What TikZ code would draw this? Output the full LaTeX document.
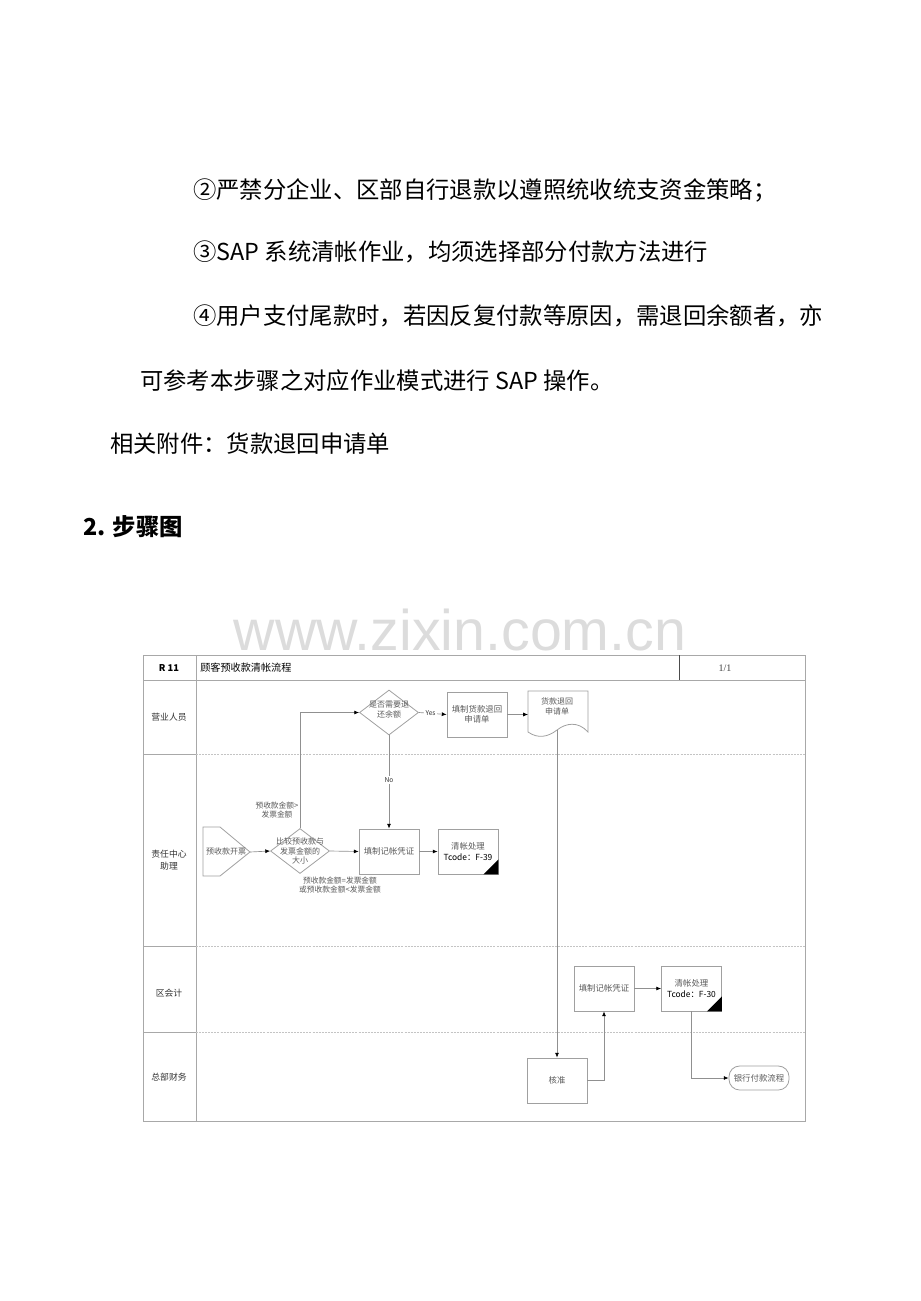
\documentclass[tikz,border=0pt]{standalone}
\usepackage{fontspec}
\setmainfont{Noto Sans CJK SC}
\newfontfamily\wmfont{Liberation Sans}
\newfontfamily\serifx{Liberation Serif}
\usetikzlibrary{arrows.meta,shapes.geometric}
\definecolor{boxgray}{HTML}{A0A0A0}
\definecolor{linegray}{HTML}{909090}
\definecolor{txtgray}{HTML}{5A5A5A}
\definecolor{lanegray}{HTML}{C4C4C4}
\definecolor{framegray}{HTML}{A8A8A8}
\definecolor{wmgray}{HTML}{DCDCDC}
\begin{document}
\begin{tikzpicture}[x=0.75pt,y=-0.75pt,
  body/.style={anchor=west,inner sep=0,font=\fontsize{17.5}{20}\selectfont},
  stepbox/.style={draw=boxgray,line width=0.6pt,minimum width=45pt,minimum height=33.75pt,inner sep=0,font=\fontsize{6.3}{7.8}\selectfont,text=txtgray,align=center},
  dia/.style={draw=boxgray,line width=0.6pt,diamond,minimum width=44.25pt,minimum height=33.75pt,inner sep=0},
  diatext/.style={inner sep=0,font=\fontsize{6}{7.4}\selectfont,text=txtgray,align=center},
  small/.style={inner sep=0,font=\fontsize{5.8}{7}\selectfont,text=txtgray,align=center},
  lanelabel/.style={inner sep=0,font=\fontsize{6.6}{8.5}\selectfont,text=black!80,align=center},
  conn/.style={draw=linegray,line width=0.5pt,-{Latex[color=black,length=3.6pt,width=3pt]}},
  corner/.style={fill=black}
]
\useasboundingbox (0,0) rectangle (920,1301);

% ---------- body text ----------
\node[body] (t1) at (193,190) {②严禁分企业、区部自行退款以遵照统收统支资金策略；};
\node[body] (t2) at (193,252) {③SAP 系统清帐作业，均须选择部分付款方法进行};
\node[body] (t3) at (193,316) {④用户支付尾款时，若因反复付款等原因，需退回余额者，亦};
\node[body] (t4) at (140,381) {可参考本步骤之对应作业模式进行 SAP 操作。};
\node[body] (t5) at (110,444) {相关附件：货款退回申请单};
\node[body,font=\fontsize{17.5}{20}\selectfont\bfseries] (t6) at (83,527) {2. 步骤图};

% watermark
\node[inner sep=0,text depth=0pt,text=wmgray,font=\wmfont\fontsize{43}{45}\selectfont] (wm) at (460,630) {www.zixin.com.cn};

% ---------- frame and lanes ----------
\draw[framegray,line width=0.7pt] (143,655) rectangle (805,1121);
\draw[framegray,line width=0.7pt] (143,680) -- (805,680);
\draw[framegray,line width=0.7pt] (196,655) -- (196,1121);
\draw[black!70,line width=0.7pt] (679,655) -- (679,680);
\foreach \yy in {754,946,1032}{
  \draw[framegray,line width=0.7pt] (143,\yy) -- (196,\yy);
  \draw[lanegray,line width=0.5pt,dash pattern=on 1.5pt off 0.8pt] (196,\yy) -- (805,\yy);
}
\node[inner sep=0,font=\fontsize{7}{8}\selectfont\bfseries] (hid) at (169,668) {R 11};
\node[inner sep=0,anchor=west,font=\fontsize{7.6}{9}\selectfont] (htitle) at (200,668) {顾客预收款清帐流程};
\node[inner sep=0,font=\serifx\fontsize{7.5}{9}\selectfont,text=black!75] (hpage) at (725,668) {1/1};

\node[lanelabel] (l1) at (169,717) {营业人员};
\node[lanelabel] (l2) at (169,860) {责任中心\\助理};
\node[lanelabel] (l3) at (169,993) {区会计};
\node[lanelabel] (l4) at (169,1077) {总部财务};

% ---------- nodes ----------
% off-page start
\draw[boxgray,line width=0.6pt] (203,827) -- (220,827) -- (250,852) -- (220,876) -- (203,876) -- cycle;
\coordinate (ptip) at (250,852);
\node[diatext] (ptext) at (226,851.5) {预收款开票};

\node[dia] (d1) at (300,851) {};
\node[diatext] (d1t) at (300,851) {比较预收款与\\发票金额的\\大小};

\node[dia] (d2) at (389,712.5) {};
\node[diatext] (d2t) at (389,710) {是否需要退\\还余额};

\node[stepbox] (apply) at (477,714.5) {填制货款退回\\申请单};

% document
\draw[boxgray,line width=0.6pt] (528,691) -- (588,691) -- (588,732)
  .. controls (578,721) and (566,723) .. (557,730)
  .. controls (548,737) and (538,739) .. (528,732) -- cycle;
\coordinate (docW) at (528,714.5);
\coordinate (docB) at (557,730);
\node[diatext] (doct) at (557,706) {货款退回\\申请单};

\node[stepbox] (rec1) at (389,851.5) {填制记帐凭证};
\node[stepbox] (f39) at (468,851.5) {清帐处理\\\textcolor{black}{Tcode：F-39}};
\fill[corner] (f39.south east) -- ++(-15,0) -- ++(15,-15) -- cycle;

\node[stepbox] (rec2) at (604,988.5) {填制记帐凭证};
\node[stepbox] (f30) at (691.5,988.5) {清帐处理\\\textcolor{black}{Tcode：F-30}};
\fill[corner] (f30.south east) -- ++(-15,0) -- ++(15,-15) -- cycle;

\node[stepbox] (check) at (557,1080.5) {核准};

\node[draw=boxgray,line width=0.6pt,rounded corners=8pt,minimum width=45pt,minimum height=18pt,inner sep=0,font=\fontsize{6.3}{7.8}\selectfont,text=txtgray] (bank) at (759,1078) {银行付款流程};

% ---------- connectors ----------
\draw[conn] (ptip) -- (d1.west);
\draw[conn] (d1.north) |- (d2.west);
\draw[conn] (d2.east) -- node[fill=white,inner sep=1pt,font=\fontsize{5}{6}\selectfont,text=black!80,pos=0.42] {Yes} (apply.west);
\draw[conn] (d2.south) -- node[fill=white,inner sep=1pt,font=\fontsize{5}{6}\selectfont,text=black!80,pos=0.48] {No} (rec1.north);
\draw[conn] (d1.east) -- (rec1.west);
\draw[conn] (rec1.east) -- (f39.west);
\draw[conn] (apply.east) -- (docW);
\draw[conn] (docB) -- (check.north);
\draw[conn] (check.east) -| (rec2.south);
\draw[conn] (rec2.east) -- (f30.west);
\draw[conn] (f30.south) |- (bank.west);

% ---------- labels ----------
\node[small] (lab1) at (277,810) {预收款金额>\\发票金额};
\node[small] (lab2) at (340,885) {预收款金额=发票金额\\或预收款金额<发票金额};
\end{tikzpicture}
\end{document}
